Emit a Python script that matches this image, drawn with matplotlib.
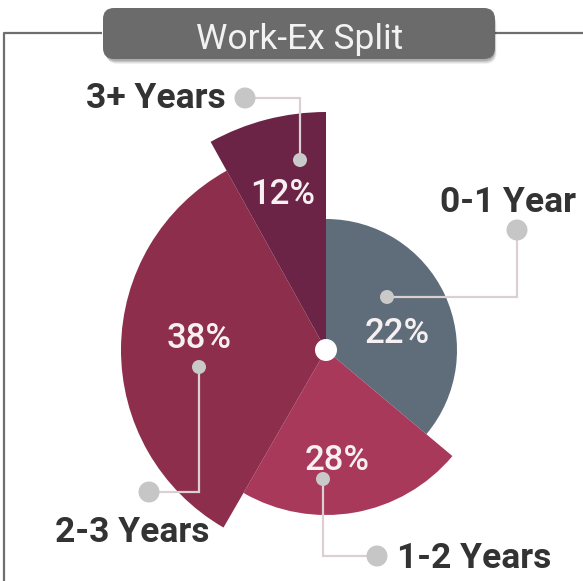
import matplotlib
matplotlib.use("Agg")
import matplotlib.pyplot as plt
from matplotlib.patches import Wedge, Circle, FancyBboxPatch

# work experience split of the class
groups = ["0-1 Year", "1-2 Years", "2-3 Years", "3+ Years"]
shares = [22, 28, 38, 12]

# the infographic draws each slice with its own sweep and reach
sweep_deg = [130, 80, 121, 29]
reach = [131, 165, 205, 238]
colors = ["#5e6d79", "#a8395b", "#8d2e4c", "#6b2446"]

TITLE = "Work-Ex Split"
CENTER = (326, 350)

# label layout in figure pixels: (text x, baseline, ha), percent (x, baseline),
# leader path from the big dot to the small dot
layout = {
    "0-1 Year": dict(text=(440, 212, "left"), pct=(397, 343),
                     path=[(517, 230), (517, 297), (387, 297)]),
    "1-2 Years": dict(text=(397, 568, "left"), pct=(337, 470),
                      path=[(377, 556), (323, 556), (323, 479)]),
    "2-3 Years": dict(text=(55, 542, "left"), pct=(199, 348),
                      path=[(149, 492), (199, 492), (199, 367)]),
    "3+ Years": dict(text=(226, 108, "right"), pct=(283, 204),
                     path=[(245, 98), (300, 98), (300, 160)]),
}

W, H = 583, 581
fig = plt.figure(figsize=(W / 100, H / 100), dpi=100)
ax = fig.add_axes([0, 0, 1, 1])
ax.set_xlim(0, W)
ax.set_ylim(H, 0)
ax.axis("off")

# frame lines around the chart
frame = "#6e6e6e"
ax.plot([4, 4, 102], [H, 33, 33], color=frame, lw=1.6, solid_capstyle="butt")
ax.plot([495, W], [33, 33], color=frame, lw=1.6, solid_capstyle="butt")

# title box with a soft shadow
for off, a in [(5, 0.06), (4, 0.08), (3, 0.1), (2, 0.12)]:
    ax.add_patch(FancyBboxPatch((104 + off * 0.5, 9 + off), 390, 50,
                                boxstyle="round,pad=0,rounding_size=11",
                                fc="black", ec="none", alpha=a, zorder=2))
ax.add_patch(FancyBboxPatch((103, 8), 392, 51,
                            boxstyle="round,pad=0,rounding_size=11",
                            fc="#6b6b6b", ec="none", zorder=3))
ax.text(300, 49, TITLE, ha="center", va="baseline", color="#f2f2f2",
        fontsize=25.5, family="Roboto", zorder=4)

# slices, clockwise from twelve o'clock (y axis points down)
start = -90
for span, r, c in zip(sweep_deg, reach, colors):
    ax.add_patch(Wedge(CENTER, r, start, start + span, fc=c, ec="none", zorder=1))
    start += span
ax.add_patch(Circle(CENTER, 11, fc="white", ec="none", zorder=5))

# leaders, dots and labels
for name, val in zip(groups, shares):
    lay = layout[name]
    xs, ys = zip(*lay["path"])
    ax.plot(xs, ys, color="#dbcfd2", lw=1.6, zorder=6, solid_joinstyle="miter")
    ax.add_patch(Circle(lay["path"][0], 10.5, fc="#c6c6c6", ec="none", zorder=7))
    ax.add_patch(Circle(lay["path"][-1], 7, fc="#c9c9c9", ec="none", zorder=7))
    tx, ty, ha = lay["text"]
    ax.text(tx, ty, name, ha=ha, va="baseline", color="#333333",
            fontsize=25.5, fontweight="bold", family="Roboto", zorder=8)
    px, py = lay["pct"]
    ax.text(px, py, f"{val}%", ha="center", va="baseline", color="#f7f0f2",
            fontsize=25, fontweight="medium", family="Roboto", zorder=8)

fig.savefig("out.png", dpi=100, facecolor="white")
